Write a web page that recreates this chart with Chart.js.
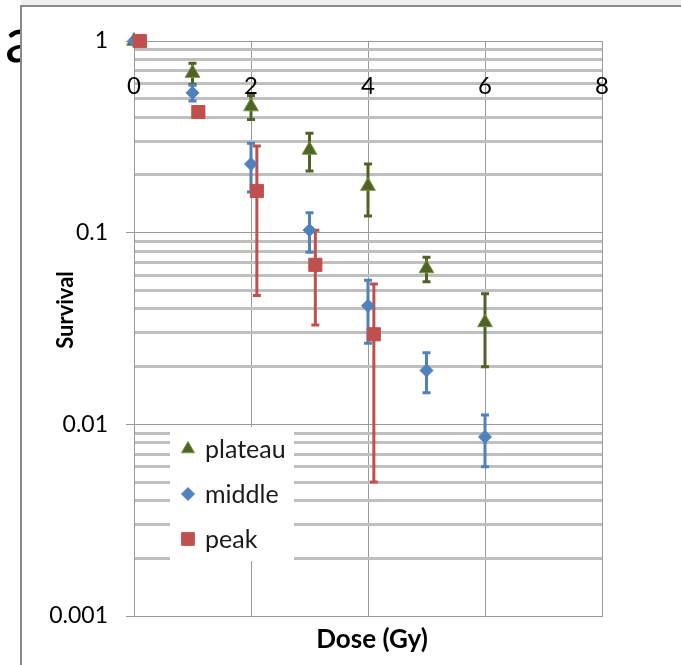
<!DOCTYPE html>
<html>
<head>
<meta charset="utf-8">
<script src="https://cdn.jsdelivr.net/npm/chart.js@4.4.0/dist/chart.umd.min.js"></script>
<style>
  html, body { margin: 0; padding: 0; background: #fff; }
</style>
</head>
<body>
<canvas id="survChart" width="681" height="665"></canvas>
<script>
// survival fractions, error = +/- half bar length
var doses = [0, 1, 2, 3, 4, 5, 6];
var plateau = [1, 0.68, 0.455, 0.27, 0.175, 0.065, 0.034];
var plateauErr = [0, 0.085, 0.065, 0.06, 0.053, 0.0095, 0.014];
var middle = [1, 0.537, 0.228, 0.103, 0.0415, 0.0191, 0.0086];
var middleErr = [0, 0.05, 0.065, 0.024, 0.015, 0.0045, 0.0026];
var peakDoses = [0.1, 1.1, 2.1, 3.1, 4.1];
var peak = [1, 0.426, 0.165, 0.068, 0.0295];
var peakErr = [0, 0, 0.118, 0.035, 0.0245];

var xTicks = [0, 2, 4, 6, 8];
var yMajor = [0.001, 0.01, 0.1, 1];
var yLabels = ['0.001', '0.01', '0.1', '1'];
var seriesNames = ['plateau', 'middle', 'peak'];

var FONT = 'Lato';

function pts(xs, ys) {
    return xs.map(function (x, i) { return { x: x, y: ys[i] }; });
}
function isMajor(v) {
    return yMajor.indexOf(v) >= 0;
}

var framePlugin = {
    id: 'frame',
    beforeDraw: function (chart) {
        var ctx = chart.ctx, w = chart.width, h = chart.height;
        ctx.save();
        ctx.fillStyle = '#fff';
        ctx.fillRect(0, 0, w, h);
        ctx.fillStyle = '#000';
        ctx.font = '62px ' + FONT;
        ctx.textBaseline = 'alphabetic';
        ctx.fillText('a', 5, 62);
        ctx.fillStyle = '#efefef';
        ctx.fillRect(21, 0, w, 6);
        ctx.fillStyle = '#fff';
        ctx.fillRect(22, 7, w, h);
        ctx.strokeStyle = '#8a8a8a';
        ctx.lineWidth = 2;
        ctx.beginPath();
        ctx.moveTo(21, h);
        ctx.lineTo(21, 6);
        ctx.lineTo(w, 6);
        ctx.stroke();
        ctx.restore();
    }
};

var errorBars = {
    id: 'errorBars',
    beforeDatasetsDraw: function (chart) {
        var ctx = chart.ctx, yScale = chart.scales.y;
        ctx.save();
        chart.data.datasets.forEach(function (ds, di) {
            var meta = chart.getDatasetMeta(di);
            ctx.strokeStyle = ds.errColor;
            ctx.lineWidth = 3;
            meta.data.forEach(function (pt, i) {
                var e = ds.errors[i];
                if (!e) return;
                var v = ds.data[i].y;
                var top = yScale.getPixelForValue(v + e);
                var bot = yScale.getPixelForValue(v - e);
                ctx.beginPath();
                ctx.moveTo(pt.x, top);
                ctx.lineTo(pt.x, bot);
                ctx.moveTo(pt.x - 4, top);
                ctx.lineTo(pt.x + 4, top);
                ctx.moveTo(pt.x - 4, bot);
                ctx.lineTo(pt.x + 4, bot);
                ctx.stroke();
            });
        });
        ctx.restore();
    }
};

var labelsPlugin = {
    id: 'labels',
    afterDraw: function (chart) {
        var ctx = chart.ctx, xs = chart.scales.x;
        ctx.save();
        ctx.fillStyle = '#000';
        ctx.textAlign = 'center';
        ctx.textBaseline = 'middle';
        ctx.font = '24px ' + FONT;
        xTicks.forEach(function (t) {
            ctx.fillText(String(t), xs.getPixelForValue(t), 86);
        });
        ctx.font = 'bold 26px ' + FONT;
        ctx.fillText('Dose (Gy)', 372, 640);
        ctx.save();
        ctx.translate(66, 310);
        ctx.rotate(-Math.PI / 2);
        ctx.font = 'bold 22px ' + FONT;
        ctx.fillText('Survival', 0, 0);
        ctx.restore();

        // legend box inside the plot
        ctx.fillStyle = '#fff';
        ctx.fillRect(170, 427, 124, 134);
        var rows = [449, 494, 539];
        chart.data.datasets.forEach(function (ds, i) {
            ctx.fillStyle = ds.backgroundColor;
            ctx.strokeStyle = ds.borderColor;
            ctx.lineWidth = 1;
            Chart.helpers.drawPoint(ctx, {
                pointStyle: ds.pointStyle,
                radius: ds.legendRadius,
                borderWidth: 1
            }, 188, rows[i]);
            ctx.fillStyle = '#1a1a1a';
            ctx.textAlign = 'left';
            ctx.font = '25px ' + FONT;
            ctx.fillText(ds.label, 205, rows[i] + 1);
        });
        ctx.restore();
    }
};

var ctx = document.getElementById('survChart').getContext('2d');
var survChart = new Chart(ctx, {
    type: 'scatter',
    data: {
        datasets: [{
            label: seriesNames[0],
            data: pts(doses, plateau),
            errors: plateauErr,
            errColor: '#4f6228',
            pointStyle: 'triangle',
            pointRadius: 8.5,
            legendRadius: 7.5,
            backgroundColor: '#4f6228',
            borderColor: '#77933c',
            borderWidth: 1,
            clip: false,
            order: 3
        }, {
            label: seriesNames[1],
            data: pts(doses, middle),
            errors: middleErr,
            errColor: '#4f81bd',
            pointStyle: 'rectRot',
            pointRadius: 6.5,
            legendRadius: 6.5,
            backgroundColor: '#4f81bd',
            borderColor: '#4f81bd',
            borderWidth: 1,
            clip: false,
            order: 2
        }, {
            label: seriesNames[2],
            data: pts(peakDoses, peak),
            errors: peakErr,
            errColor: '#c0504d',
            pointStyle: 'rect',
            pointRadius: 9.3,
            legendRadius: 9,
            backgroundColor: '#c0504d',
            borderColor: '#c0504d',
            borderWidth: 1,
            clip: false,
            order: 1
        }]
    },
    plugins: [framePlugin, errorBars, labelsPlugin],
    options: {
        responsive: false,
        animation: false,
        layout: { padding: { top: 41, right: 79, left: 0, bottom: 0 } },
        plugins: {
            legend: { display: false },
            tooltip: { enabled: false }
        },
        scales: {
            x: {
                type: 'linear',
                min: 0,
                max: 8,
                ticks: { display: false, stepSize: 2 },
                grid: { color: '#9a9a9a', lineWidth: 1, drawTicks: false },
                border: { color: '#9a9a9a' },
                afterFit: function (s) { s.height = 49; }
            },
            y: {
                type: 'logarithmic',
                min: 0.001,
                max: 1,
                afterBuildTicks: function (scale) {
                    var ticks = [];
                    for (var d = 0; d < yMajor.length - 1; d++) {
                        ticks.push({ value: yMajor[d] });
                        for (var m = 2; m < 10; m++) {
                            ticks.push({ value: Number((m * yMajor[d]).toPrecision(2)) });
                        }
                    }
                    ticks.push({ value: yMajor[yMajor.length - 1] });
                    scale.ticks = ticks;
                },
                ticks: {
                    autoSkip: false,
                    padding: 18,
                    color: '#000',
                    font: { family: FONT, size: 23 },
                    callback: function (v) {
                        var i = yMajor.indexOf(v);
                        return i >= 0 ? yLabels[i] : '';
                    }
                },
                grid: {
                    tickLength: 8,
                    color: function (c) { return isMajor(c.tick.value) ? '#9a9a9a' : '#bfbfbf'; },
                    lineWidth: function (c) { return isMajor(c.tick.value) ? 1 : 3; },
                    tickColor: function (c) { return isMajor(c.tick.value) ? '#9a9a9a' : 'rgba(0,0,0,0)'; }
                },
                border: { color: '#9a9a9a' },
                afterFit: function (s) { s.width = 134; }
            }
        }
    }
});
</script>
</body>
</html>
